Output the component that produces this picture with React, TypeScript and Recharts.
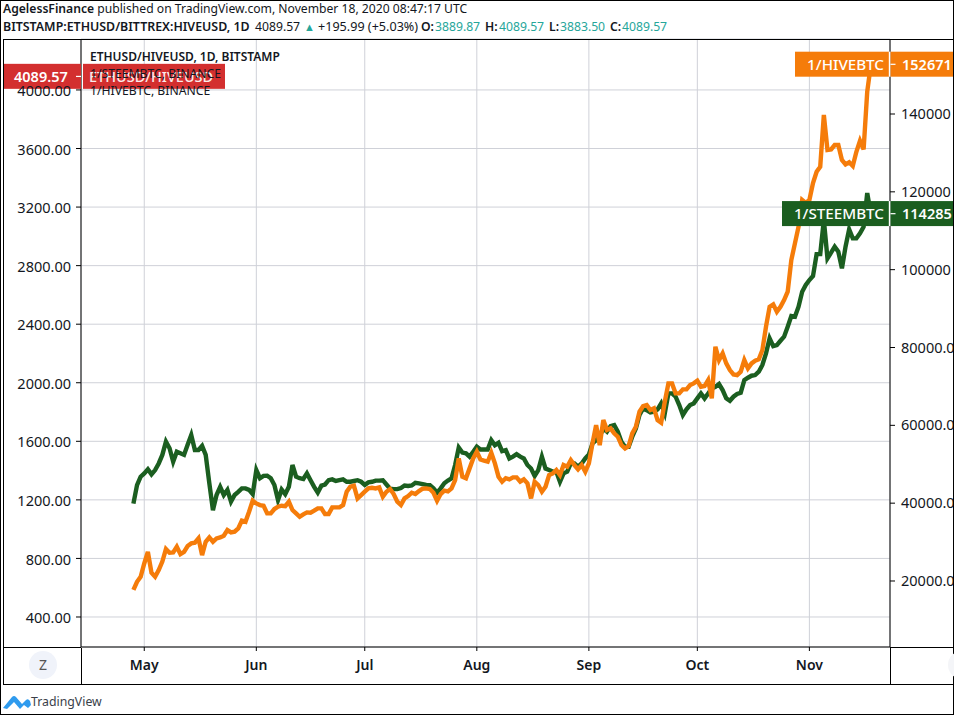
import React from "react";
import { LineChart, Line, XAxis, YAxis, CartesianGrid, ReferenceDot } from "recharts";

const FIRST_DAY = -3; // days relative to May 1
const monthTicks = [0, 31, 61, 92, 123, 153, 184];
const monthNames = ["May", "Jun", "Jul", "Aug", "Sep", "Oct", "Nov"];
const leftTicks = [400, 800, 1200, 1600, 2000, 2400, 2800, 3200, 3600, 4000];
const rightTicks = [20000, 40000, 60000, 80000, 100000, 120000, 140000];

const steem = [
  39900, 44650, 46800, 47650, 48700, 47400, 48500, 50200, 52400, 55800, 54100, 50650, 53200, 52800, 52400, 55000,
  57500, 53650, 53650, 54700, 52400, 45100, 38200, 42100, 44200, 42100, 43400, 40400, 42100, 42900, 43800, 43800,
  43400, 42300, 48500, 46400, 47000, 47050, 46400, 44650, 40800, 43500, 42300, 44200, 49800, 46800, 46400, 46200,
  47650, 45900, 44200, 42700, 44500, 44800, 45900, 46100, 45700, 45900, 46100, 45500, 45500, 45700, 45900,
  45500, 44700, 45350, 45500, 45800, 45800, 45900, 44800, 43700, 43600, 43600, 43900, 44550, 44400, 44550, 45250,
  45100, 44900, 44700, 44650, 43800, 42700, 43800, 45100, 45800, 46400, 49800, 54300, 53000, 52800, 51950, 53200,
  54500, 53800, 53800, 53800, 56200, 54900, 55500, 53400, 53650, 51500, 51950, 52600, 51950, 51500, 49800, 48900,
  47000, 48500, 51950, 48900, 48500, 48100, 48100, 45500, 47650, 48100, 50200, 50200, 49400, 50200, 51500, 52500,
  55350, 56200, 57250, 59200, 58360, 59800, 60070, 58350, 55800, 54500, 54500, 57070, 59200, 62650, 64350, 63900,
  63300, 63500, 64100, 65640, 63070, 68200, 68200, 67350, 65200, 62650, 64100, 65200, 65640, 66920, 68200, 66920,
  68200, 69500, 69900, 70600, 69070, 66920, 66300, 67350, 68040, 68380, 71640, 72240, 72750, 72920, 73780, 75500,
  78490, 82350, 80370, 80630, 81740, 82770, 85340, 88080, 87900, 90480, 94340, 96050, 97340, 98360, 104000, 104000,
  112750, 102900, 104360, 105900, 104620, 100330, 105900, 110350, 108050, 108050, 109330, 111000, 119700, 114285,
];

const hive = [
  17700, 19800, 21100, 24500, 27500, 22100, 21100, 22800, 25000, 28200, 27260, 27350, 28800, 26900, 27500, 29000,
  29660, 29830, 30950, 26660, 30090, 31200, 30090, 30950, 31200, 31630, 33090, 32490, 32660, 33500, 35500, 35230,
  37800, 40630, 39940, 39510, 39340, 37370, 37370, 38490, 39080, 39340, 39250, 40370, 38230, 37370, 36510, 37110,
  37630, 37540, 38060, 38660, 38660, 37200, 37200, 38910, 38910, 38910, 39510, 42940, 44220, 44480, 41230,
  42080, 42940, 43800, 43970, 43800, 44050, 41650, 42940, 43620, 42340, 40370, 39510, 41230, 41830, 42680, 42340,
  43110, 43710, 43800, 43620, 42680, 40630, 42340, 43200, 43020, 43800, 45940, 51500, 46800, 46400, 48940, 51500,
  53220, 51250, 50900, 50650, 52960, 50220, 46800, 45510, 46400, 46110, 46620, 46620, 45510, 46110, 45080, 41230,
  45510, 44650, 42940, 44220, 47220, 47650, 48510, 47220, 49790, 49360, 51080, 49790, 48680, 49790, 48080, 50220,
  55360, 60070, 54930, 61360, 58790, 59220, 57930, 57070, 54930, 54070, 54670, 57930, 59640, 63500, 64960, 65210,
  63930, 64360, 61360, 60670, 66070, 70780, 70780, 68210, 68210, 69240, 69240, 70350, 70780, 71470, 69920, 70100,
  71640, 66920, 80200, 76780, 78490, 75920, 74200, 73090, 72920, 73780, 76780, 74640, 75920, 76600, 76950, 79350,
  85340, 90480, 91080, 89200, 90480, 92200, 94340, 102475, 106760, 111040, 117900, 117130, 117900, 122270, 125170, 126460,
  139740, 130750, 130910, 132030, 132030, 128180, 127070, 127590, 126640, 130300, 133140, 130910, 145730, 152671,
];

const LAST_RATIO = 4089.57;
const rows = steem.map((s, i) => ({
  day: FIRST_DAY + i,
  steem: s,
  hive: hive[i],
  ratio: i === steem.length - 1 ? LAST_RATIO : null,
}));
const lastDay = FIRST_DAY + steem.length - 1;

const FONT = "'Noto Sans', sans-serif";
const ORANGE = "#f57c0a";
const GREEN = "#1b5e20";
const RED = "#d32f2f";
const TEAL = "#26a69a";

function rightLabel(color: string, name: string, value: string, nameLeft: number) {
  return (props: any) => {
    const cy = props.cy;
    return (
      <g>
        <rect x={nameLeft} y={cy - 13} width={889 - nameLeft} height={25} fill={color} />
        <text x={884} y={cy + 5} textAnchor="end" fill="#fff" fontFamily={FONT} fontSize={15.2} fontWeight={500}>{name}</text>
        <rect x={888.8} y={cy - 13} width={1.8} height={25} fill="#fff" />
        <rect x={890.5} y={cy - 13} width={64} height={25} fill={color} />
        <rect x={890.5} y={cy - 1} width={5} height={1.2} fill="#fff" />
        <text x={902} y={cy + 5} fill="#fff" fontFamily={FONT} fontSize={14.5} fontWeight={600}>{value}</text>
      </g>
    );
  };
}

function leftLabel(props: any) {
  const cy = props.cy;
  return (
    <g>
      <rect x={3} y={cy - 13} width={78} height={25} fill={RED} />
      <rect x={76} y={cy - 1} width={5} height={1.2} fill="#fff" />
      <text x={14} y={cy + 5} fill="#fff" fontFamily={FONT} fontSize={14.5} fontWeight={600}>4089.57</text>
      <rect x={83} y={cy - 13} width={142} height={25} fill={RED} />
      <text x={89} y={cy + 5} fill="#fff" fontFamily={FONT} fontSize={14.5} fontWeight={500} opacity={0.9}>ETHUSD/HIVEUSD</text>
    </g>
  );
}

const absText = (left: number, top: number, size: number, extra: any = {}): any => ({
  position: "absolute",
  left,
  top,
  fontSize: size,
  fontFamily: FONT,
  whiteSpace: "nowrap",
  color: "#131722",
  lineHeight: "16px",
  ...extra,
});

const formatRight = (v: number) => (v >= 100000 ? String(v) : v.toFixed(2));

export default function App() {
  return (
    <div style={{ position: "absolute", left: 0, top: 0, width: 954, height: 715, background: "#fff", overflow: "hidden" }}>
      <LineChart
        width={954}
        height={715}
        data={rows}
        margin={{ top: 39, right: 0, bottom: 0, left: 0 }}
        style={{ position: "absolute", left: 0, top: 0 }}
      >
        <CartesianGrid yAxisId="left" stroke="#cfd1d8" strokeWidth={1} />
        <XAxis
          dataKey="day"
          type="number"
          domain={[-17.5, 206.3]}
          allowDataOverflow
          ticks={monthTicks}
          interval={0}
          tickFormatter={(d: number) => monthNames[monthTicks.indexOf(d)]}
          height={68}
          tickSize={4}
          tickMargin={9}
          stroke="#000"
          tick={{ fill: "#131722", fontFamily: FONT, fontSize: 14, fontWeight: 600 }}
        />
        <YAxis
          yAxisId="left"
          orientation="left"
          width={81}
          domain={[195, 4348]}
          allowDataOverflow
          ticks={leftTicks}
          interval={0}
          tickFormatter={(v: number) => v.toFixed(2)}
          tickSize={5}
          tickMargin={5}
          stroke="#000"
          tick={{ fill: "#131722", fontFamily: FONT, fontSize: 14.5, dy: 1 }}
        />
        <YAxis
          yAxisId="right"
          orientation="right"
          width={64}
          domain={[3038, 159275]}
          allowDataOverflow
          ticks={rightTicks}
          interval={0}
          tickFormatter={formatRight}
          tickSize={5}
          tickMargin={6}
          stroke="#000"
          tick={{ fill: "#131722", fontFamily: FONT, fontSize: 14.5, textAnchor: "start" }}
        />
        <Line yAxisId="left" dataKey="ratio" stroke={RED} dot={false} isAnimationActive={false} />
        <Line yAxisId="right" dataKey="steem" stroke={GREEN} strokeWidth={4.4} dot={false} isAnimationActive={false} />
        <Line yAxisId="right" dataKey="hive" stroke={ORANGE} strokeWidth={4.4} dot={false} isAnimationActive={false} />
        <ReferenceDot yAxisId="right" x={lastDay} y={steem[steem.length - 1]} ifOverflow="visible" shape={rightLabel(GREEN, "1/STEEMBTC", "114285", 782)} />
        <ReferenceDot yAxisId="right" x={lastDay} y={hive[hive.length - 1]} ifOverflow="visible" shape={rightLabel(ORANGE, "1/HIVEBTC", "152671", 795)} />
        <ReferenceDot yAxisId="left" x={lastDay} y={LAST_RATIO} ifOverflow="visible" shape={leftLabel} />
      </LineChart>

      {/* frames */}
      <div style={{ position: "absolute", left: 0, top: 0, width: 952, height: 713, border: "1px solid #000", pointerEvents: "none" }} />
      <div style={{ position: "absolute", left: 3, top: 39, width: 950, height: 644, borderTop: "1px solid #000", borderLeft: "1px solid #000", borderBottom: "1px solid #000", pointerEvents: "none" }} />
      <div style={{ position: "absolute", left: 3, top: 647, width: 78, height: 1, background: "#000" }} />
      <div style={{ position: "absolute", left: 890, top: 647, width: 63, height: 1, background: "#000" }} />
      <div style={{ position: "absolute", left: 81, top: 648, width: 1, height: 36, background: "#000" }} />
      <div style={{ position: "absolute", left: 890, top: 648, width: 1, height: 36, background: "#000" }} />

      {/* header */}
      <div style={absText(3, 1, 12.15)}>
        <b style={{ fontWeight: 600 }}>AgelessFinance</b> published on TradingView.com, November 18, 2020 08:47:17 UTC
      </div>
      <div style={absText(3, 19, 12.4, { fontWeight: 600 })}>BITSTAMP:ETHUSD/BITTREX:HIVEUSD, 1D</div>
      <div style={absText(255, 19, 12.2)}>4089.57</div>
      <div style={absText(304, 19, 11, { color: TEAL })}>▲</div>
      <div style={absText(318, 19, 12.6)}>+195.99 (+5.03%)</div>
      <div style={absText(421, 19, 12.2, { fontWeight: 600 })}>O:</div>
      <div style={absText(435, 19, 12.2, { color: TEAL })}>3889.87</div>
      <div style={absText(485, 19, 12.2, { fontWeight: 600 })}>H:</div>
      <div style={absText(499, 19, 12.2, { color: TEAL })}>4089.57</div>
      <div style={absText(549, 19, 12.2, { fontWeight: 600 })}>L:</div>
      <div style={absText(560, 19, 12.2, { color: TEAL })}>3883.50</div>
      <div style={absText(610, 19, 12.2, { fontWeight: 600 })}>C:</div>
      <div style={absText(622, 19, 12.2, { color: TEAL })}>4089.57</div>

      {/* legend */}
      <div style={absText(90, 49, 12, { fontWeight: 600 })}>ETHUSD/HIVEUSD, 1D, BITSTAMP</div>
      <div style={absText(90, 66, 12.2)}>1/STEEMBTC, BINANCE</div>
      <div style={absText(90, 83, 12.2)}>1/HIVEBTC, BINANCE</div>

      {/* Z button and faded button */}
      <div style={absText(29, 651, 14, { width: 28, height: 28, borderRadius: 14, background: "#f0f3fa", color: "#555", textAlign: "center", lineHeight: "28px" })}>Z</div>
      <div style={{ position: "absolute", left: 948, top: 651, width: 28, height: 28, borderRadius: 14, background: "#f4f5f8" }} />

      {/* footer */}
      <svg width={30} height={18} style={{ position: "absolute", left: 2, top: 693 }}>
        <path d="M1 15 L10 4 Q12 2 14 4 L20 11 L24 7 Q26 5 28 8 L29 12 L26 15 L22 12 L18 16 L12 9 L5 16 Z" fill="#2f9bee" />
      </svg>
      <div style={absText(31, 694, 12.3, { color: "#3a3f4a" })}>TradingView</div>
    </div>
  );
}
